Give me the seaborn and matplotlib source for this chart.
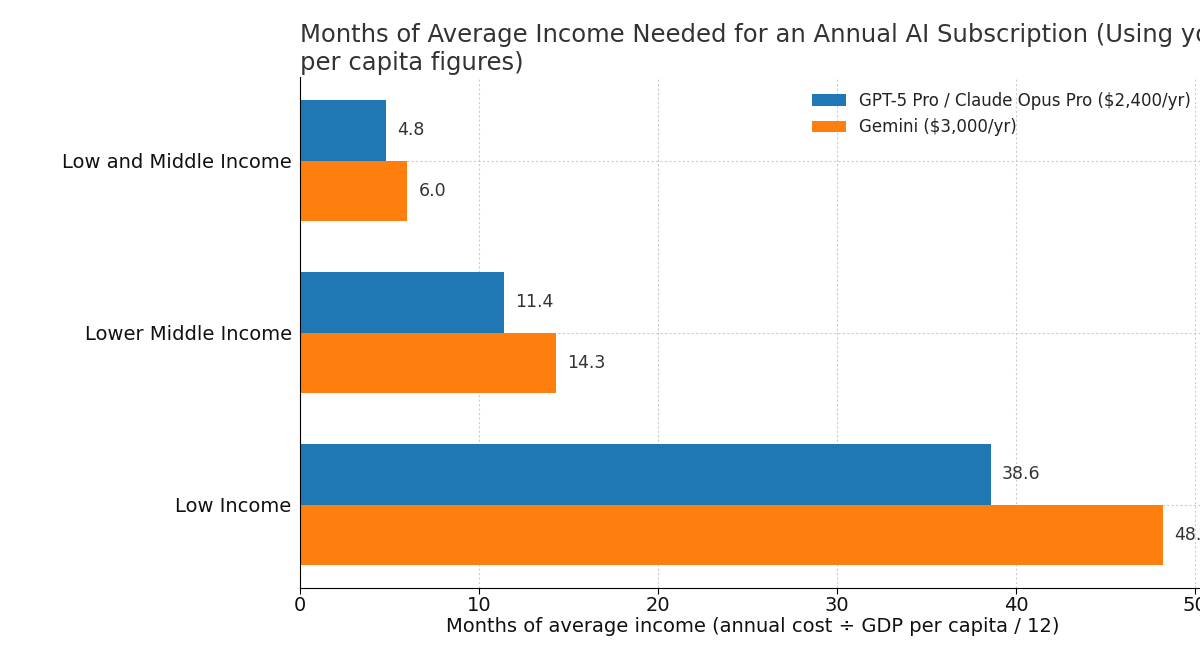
import matplotlib
matplotlib.use("Agg")
import matplotlib.pyplot as plt
import seaborn as sns
import pandas as pd

categories = ["Low and Middle Income", "Lower Middle Income", "Low Income"]
series_names = ["GPT-5 Pro / Claude Opus Pro ($2,400/yr)", "Gemini ($3,000/yr)"]
gpt_claude = [4.8, 11.4, 38.6]
gemini = [6.0, 14.3, 48.2]
colors = ["#1f77b4", "#ff7f0e"]

df = pd.DataFrame({
    "category": categories * 2,
    "plan": [series_names[0]] * 3 + [series_names[1]] * 3,
    "months": gpt_claude + gemini,
})

sns.set_style("white")
plt.rcParams["font.family"] = ["DejaVu Sans"]

fig = plt.figure(figsize=(12, 6.5), dpi=100)
ax = fig.add_axes([0.25, 0.0954, 0.755, 0.786])

sns.barplot(data=df, x="months", y="category", hue="plan", order=categories,
            hue_order=series_names, palette=colors, width=0.7, orient="h",
            saturation=1, linewidth=0, edgecolor="none", ax=ax, zorder=2)

for cont in ax.containers:
    ax.bar_label(cont, fmt="%.1f", padding=8, fontsize=12.5, color="#333333")

ax.set_xlim(0, 48.2 * 1.05)
ax.set_ylim(2.485, -0.485)
ax.set_xticks([0, 10, 20, 30, 40, 50])
ax.grid(True, linestyle=(0, (2, 2)), color="#cccccc", linewidth=0.8, zorder=0)
ax.set_axisbelow(True)
for s in ["top", "right"]:
    ax.spines[s].set_visible(False)
ax.spines["left"].set_color("black")
ax.spines["bottom"].set_color("black")
ax.tick_params(axis="x", labelsize=14, length=4, color="black", bottom=True,
               pad=1.5, labelcolor="#111111")
ax.tick_params(axis="y", labelsize=14, length=0, pad=6, labelcolor="#111111")
ax.set_ylabel("")
ax.set_xlabel("Months of average income (annual cost ÷ GDP per capita / 12)",
              fontsize=14, color="#111111", labelpad=2)
ax.set_title("Months of Average Income Needed for an Annual AI Subscription (Using your GDP\nper capita figures)",
             loc="left", fontsize=17.5, color="#333333", pad=5)
leg = ax.legend(loc="upper right", frameon=False, fontsize=12, title=None)
for t in leg.get_texts():
    t.set_color("#222222")

fig.savefig("out.png", dpi=100)
